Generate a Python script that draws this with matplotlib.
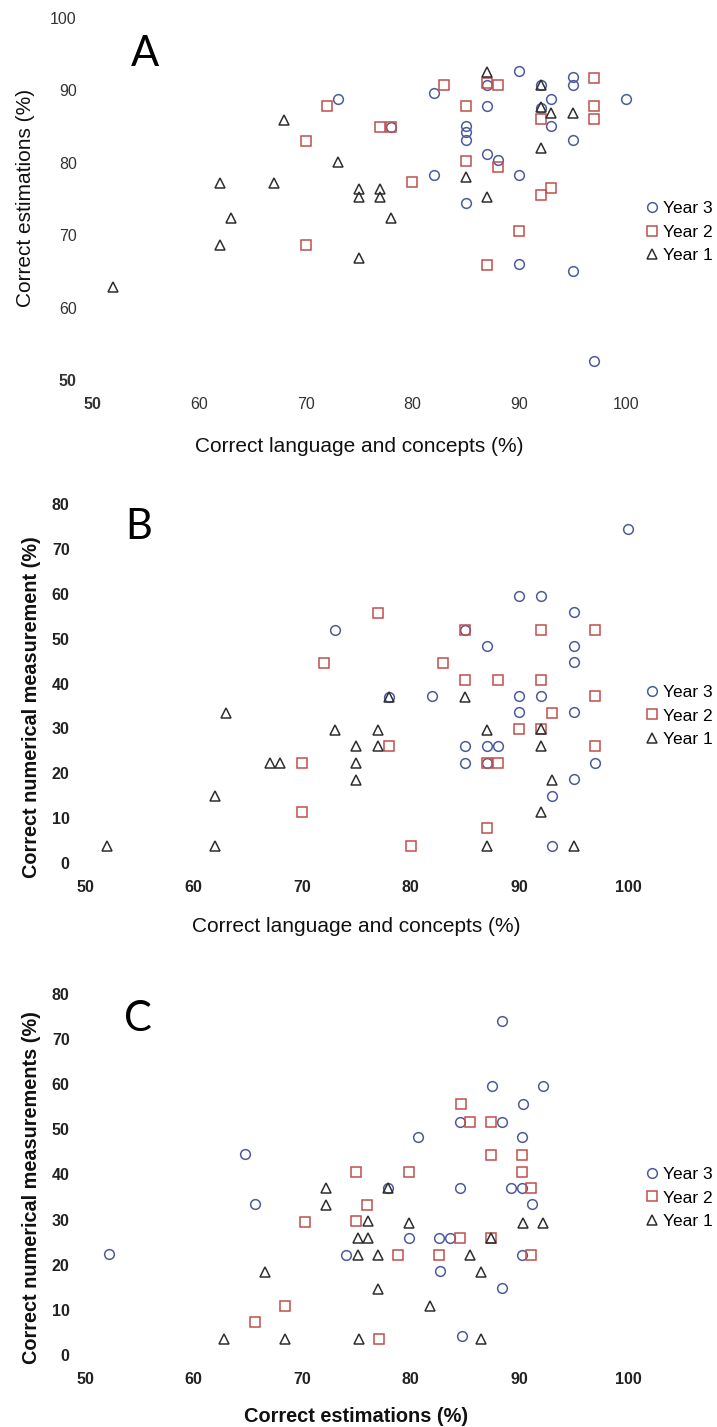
import matplotlib
matplotlib.use("Agg")
import matplotlib.pyplot as plt
from matplotlib.lines import Line2D

plt.rcParams["font.family"] = ["Liberation Sans", "DejaVu Sans"]

# Panel A: language & concepts (x) vs estimations (y)
a_y3_x = [90, 92, 95, 95, 93, 100, 87, 85, 85, 85, 95, 87, 88, 82, 90, 85, 90, 95, 97, 73, 82, 87, 78, 93, 92]
a_y3_y = [92.7, 90.8, 91.8, 90.7, 88.8, 88.8, 87.8, 85.1, 84.2, 83.1, 83.1, 81.2, 80.4, 78.3, 78.3, 74.5, 66.0, 65.0, 52.6,
          88.8, 89.7, 90.7, 84.9, 85.1, 87.6]
a_y2_x = [72, 83, 87, 88, 97, 85, 97, 97, 92, 77, 78, 70, 85, 88, 80, 92, 93, 90, 70, 87]
a_y2_y = [87.9, 90.7, 91.0, 90.7, 91.7, 87.8, 87.8, 86.0, 86.0, 84.9, 84.9, 83.0, 80.2, 79.4, 77.3, 75.6, 76.5, 70.6, 68.7, 65.9]
a_y1_x = [87, 92, 92, 93, 95, 68, 92, 73, 85, 62, 67, 75, 75, 77, 77, 87, 63, 78, 62, 75, 52]
a_y1_y = [92.6, 90.8, 87.7, 86.9, 86.9, 85.9, 82.0, 80.1, 78.1, 77.2, 77.2, 76.4, 75.3, 76.4, 75.3, 75.3, 72.4, 72.4, 68.6, 66.8, 62.8]

# Panel B: language & concepts (x) vs numerical measurement (y)
b_y3_x = [100, 90, 92, 95, 73, 85, 87, 95, 95, 82, 78, 90, 92, 90, 95, 85, 87, 88, 85, 87, 97, 95, 93, 93]
b_y3_y = [74.4, 59.6, 59.6, 55.9, 52.0, 52.0, 48.4, 48.4, 44.7, 37.3, 37.1, 37.3, 37.3, 33.7, 33.7, 26.0, 26.0, 26.0,
          22.4, 22.2, 22.4, 18.7, 15.0, 3.9]
b_y2_x = [77, 85, 92, 97, 72, 83, 85, 88, 92, 97, 93, 90, 92, 78, 97, 70, 87, 88, 70, 87, 80]
b_y2_y = [55.7, 52.0, 52.0, 52.0, 44.5, 44.5, 40.8, 40.8, 40.8, 37.2, 33.5, 29.8, 29.8, 26.0, 26.0, 22.3, 22.2, 22.2, 11.3, 7.8, 3.9]
b_y1_x = [78, 85, 63, 73, 77, 87, 92, 75, 77, 92, 67, 68, 75, 75, 93, 62, 92, 52, 62, 87, 95]
b_y1_y = [37.1, 37.0, 33.4, 29.7, 29.7, 29.6, 29.8, 26.0, 26.0, 26.0, 22.3, 22.3, 22.3, 18.6, 18.6, 15.0, 11.3, 3.7, 3.7, 3.7, 3.7]

# Panel C: estimations (x) vs numerical measurements (y)
c_y3_x = [88.4, 87.5, 92.2, 90.3, 84.5, 88.4, 80.7, 90.2, 64.7, 77.9, 84.5, 89.2, 90.2, 65.7, 91.2, 79.8, 82.6, 83.6,
          52.2, 74.0, 90.2, 82.7, 88.4, 84.7]
c_y3_y = [74.1, 59.5, 59.5, 55.5, 51.7, 51.7, 48.3, 48.3, 44.5, 37.0, 37.0, 37.0, 37.0, 33.4, 33.5, 26.0, 26.0, 26.0,
          22.3, 22.2, 22.2, 18.6, 14.9, 4.1]
c_y2_x = [84.6, 85.5, 87.4, 87.4, 90.2, 75.0, 79.8, 90.2, 91.1, 76.0, 70.3, 75.0, 84.5, 87.4, 78.8, 82.6, 91.1, 68.4, 65.7, 77.1]
c_y2_y = [55.5, 51.7, 51.7, 44.3, 44.3, 40.6, 40.6, 40.6, 37.0, 33.3, 29.5, 29.6, 26.0, 25.9, 22.2, 22.2, 22.2, 10.9, 7.2, 3.5]
c_y1_x = [72.2, 77.9, 72.2, 76.1, 79.8, 90.3, 92.2, 75.1, 76.1, 87.4, 75.1, 77.0, 85.5, 66.6, 86.5, 77.0, 81.8, 62.8, 68.4, 75.2, 86.5]
c_y1_y = [37.0, 37.0, 33.3, 29.6, 29.3, 29.3, 29.3, 25.9, 25.9, 25.9, 22.2, 22.2, 22.2, 18.3, 18.3, 14.6, 10.9, 3.5, 3.5, 3.5, 3.5]

year_labels = ["Year 3", "Year 2", "Year 1"]
x_ticks = [50, 60, 70, 80, 90, 100]

BLUE = "#4d5b9e"
RED = "#c0504d"
DARK = "#2e2e2e"
styles = [("o", BLUE, 7.0), ("s", RED, 6.6), ("^", DARK, 7.0)]

fig = plt.figure(figsize=(7.17, 14.27), dpi=100)


def panel(rect, series, ylim, yticks, xlabel, ylabel, letter, leg_anchor, bold):
    ax = fig.add_axes(rect)
    for (xs, ys), (mk, col, ms) in zip(series, styles):
        ax.plot(xs, ys, linestyle="none", marker=mk, ms=ms, mfc="none", mec=col, mew=1.1, clip_on=False)
    ax.set_xlim(50, 100)
    ax.set_ylim(*ylim)
    w = "bold" if bold else "normal"
    tc = "#222222" if bold else "#333333"
    ax.set_xticks(x_ticks, [str(t) for t in x_ticks], fontsize=11.5, fontweight=w, color=tc)
    ax.set_yticks(yticks, [str(t) for t in yticks], fontsize=11.5, fontweight=w, color=tc)
    ax.tick_params(length=0, pad=11)
    ax.tick_params(axis="x", pad=12)
    for s in ax.spines.values():
        s.set_visible(False)
    ax.set_xlabel(xlabel[0], fontsize=xlabel[3], fontweight=xlabel[1], labelpad=xlabel[2], color="#111111")
    ax.set_ylabel(ylabel[0], fontsize=ylabel[3], fontweight=ylabel[1], color="#111111")
    ax.yaxis.set_label_coords(ylabel[2], ylabel[4])
    ax.text(letter[1], letter[2], letter[0], transform=ax.transAxes, fontsize=30, family="Lato",
            ha="center", va="center")
    handles = [Line2D([], [], linestyle="none", marker=mk, ms=ms, mfc="none", mec=col, mew=1.1)
               for mk, col, ms in styles]
    fig.legend(handles, year_labels, loc="center left", bbox_to_anchor=leg_anchor, frameon=False,
               fontsize=12.5, handlelength=0.9, handletextpad=0.15, borderpad=0, borderaxespad=0,
               labelspacing=0.5)
    return ax


ax_a = panel([0.1283, 0.7337, 0.7448, 0.2537],
             [(a_y3_x, a_y3_y), (a_y2_x, a_y2_y), (a_y1_x, a_y1_y)],
             (50, 100), [50, 60, 70, 80, 90, 100],
             ("Correct language and concepts (%)", "normal", 18, 15),
             ("Correct estimations (%)", "normal", -0.107, 15, 0.503),
             ("A", 0.1, 0.9), (0.899, 0.8374), False)
for lab in ax_a.get_xticklabels() + ax_a.get_yticklabels():
    if lab.get_text() == "50":
        lab.set_fontweight("bold")

ax_b = panel([0.1185, 0.3952, 0.7573, 0.2516],
             [(b_y3_x, b_y3_y), (b_y2_x, b_y2_y), (b_y1_x, b_y1_y)],
             (0, 80), [0, 10, 20, 30, 40, 50, 60, 70, 80],
             ("Correct language and concepts (%)", "normal", 16, 15),
             ("Correct numerical measurement (%)", "bold", -0.081, 14.3, 0.435),
             ("B", 0.099, 0.935), (0.899, 0.4983), True)

ax_c = panel([0.1185, 0.0505, 0.7573, 0.2530],
             [(c_y3_x, c_y3_y), (c_y2_x, c_y2_y), (c_y1_x, c_y1_y)],
             (0, 80), [0, 10, 20, 30, 40, 50, 60, 70, 80],
             ("Correct estimations (%)", "bold", 15, 14.4),
             ("Correct numerical measurements (%)", "bold", -0.081, 14.3, 0.463),
             ("C", 0.098, 0.93), (0.899, 0.1605), True)

fig.savefig("out.png", dpi=100)
